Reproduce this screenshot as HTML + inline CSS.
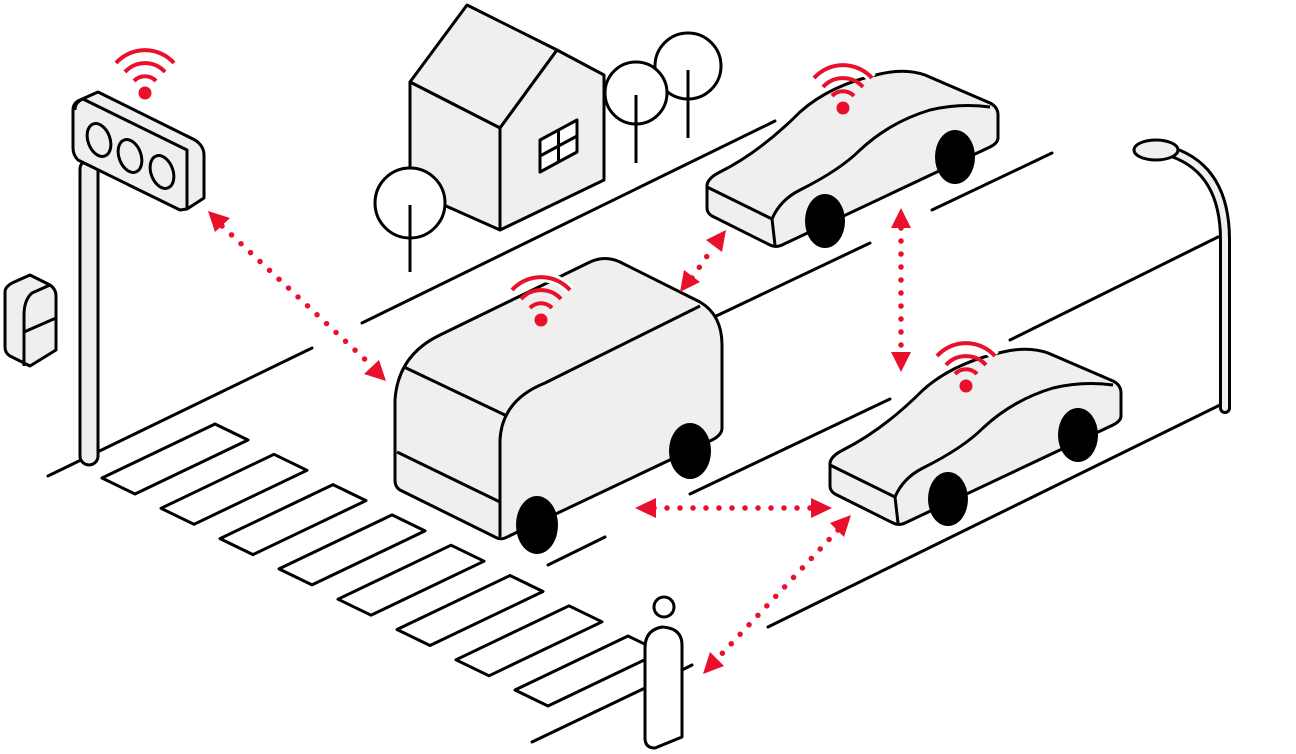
<!DOCTYPE html>
<html><head><meta charset="utf-8"><style>html,body{margin:0;padding:0;background:#fff}svg{display:block}</style></head>
<body>
<svg width="1296" height="754" viewBox="0 0 1296 754" xmlns="http://www.w3.org/2000/svg">
<defs>
<g id="wifi">
<path d="M-29,-30 A39,39 0 0 1 29,-30" fill="none" stroke="#fff" stroke-width="10"/>
<circle cx="0" cy="0" r="6.5" fill="#e8102a"/>
<path d="M-11,-12 A15,15 0 0 1 11,-12" fill="none" stroke="#e8102a" stroke-width="4"/>
<path d="M-20,-21 A27,27 0 0 1 20,-21" fill="none" stroke="#e8102a" stroke-width="4"/>
<path d="M-29,-30 A39,39 0 0 1 29,-30" fill="none" stroke="#e8102a" stroke-width="4"/>
</g>
<g id="car">
<path d="M707,185 Q708,178 720,172 Q760,152 800,112 Q830,85 880,74 Q905,68 925,75 L990,103 Q998,107 998,115 L998,138 Q998,143 990,147 L782,245 Q776,248 770,245 L712,216 Q707,213 707,208 Z" fill="#efefef" stroke="#000" stroke-width="3" stroke-linejoin="round"/>
<path d="M707,187 L772,219 L775,245" fill="none" stroke="#000" stroke-width="3"/>
<path d="M772,219 Q780,200 800,190 Q840,170 860,150 Q890,122 930,110 Q960,103 990,107" fill="none" stroke="#000" stroke-width="3"/>
<ellipse cx="825" cy="221" rx="20" ry="27" fill="#000"/>
<ellipse cx="955" cy="157" rx="20" ry="27" fill="#000"/>
</g>
</defs>

<g fill="none" stroke="#000" stroke-width="3" stroke-linecap="round">
<line x1="48" y1="476" x2="312" y2="348"/>
<line x1="362" y1="323" x2="775" y2="121"/>
<line x1="548" y1="565" x2="605" y2="537"/>
<line x1="690" y1="494" x2="890" y2="399"/>
<line x1="712" y1="318" x2="870" y2="243"/>
<line x1="932" y1="210" x2="1052" y2="153"/>
<line x1="532" y1="742" x2="645" y2="688"/>
<line x1="682" y1="670" x2="692" y2="665"/>
<line x1="768" y1="627" x2="1220" y2="405"/>
<line x1="1010" y1="340" x2="1218" y2="237"/>
</g>

<g fill="#fff" stroke="#000" stroke-width="3" stroke-linejoin="round">
<path id="st" d="M102,478 L215,424 L248,440 L135,494 Z"/>
<use href="#st" transform="translate(59,30.3)"/>
<use href="#st" transform="translate(118,60.6)"/>
<use href="#st" transform="translate(177,90.9)"/>
<use href="#st" transform="translate(236,121.2)"/>
<use href="#st" transform="translate(295,151.5)"/>
<use href="#st" transform="translate(354,181.8)"/>
<use href="#st" transform="translate(413,212)"/>
</g>

<g fill="#fff" stroke="#000" stroke-width="3">
<circle cx="688" cy="66" r="33"/>
<line x1="688" y1="70" x2="688" y2="138"/>
<circle cx="636" cy="93" r="31"/>
<line x1="636" y1="95" x2="636" y2="163"/>
</g>

<g fill="#efefef" stroke="#000" stroke-width="3" stroke-linejoin="round">
<path d="M410,82 L467,5 L557,50 L500,128 Z"/>
<path d="M410,82 L500,128 L500,230 L410,190 Z"/>
<path d="M500,128 L557,50 L604,75 L604,180 L500,230 Z"/>
<path d="M540,140 L577,120 L577,152 L540,172 Z" fill="#fff"/>
<path d="M558.5,130 L558.5,162 M540,156 L577,136" fill="none"/>
</g>
<g fill="#fff" stroke="#000" stroke-width="3">
<circle cx="410" cy="203" r="35"/>
<line x1="410" y1="205" x2="410" y2="272"/>
</g>

<path d="M1172,152 Q1225,170 1225,240 L1225,408" fill="none" stroke="#000" stroke-width="12" stroke-linecap="round"/>
<path d="M1172,152 Q1225,170 1225,240 L1225,408" fill="none" stroke="#efefef" stroke-width="6" stroke-linecap="round"/>
<ellipse cx="1156" cy="150" rx="22" ry="10" fill="#efefef" stroke="#000" stroke-width="3"/>

<rect x="80" y="160" width="18" height="305" rx="9" fill="#efefef" stroke="#000" stroke-width="3"/>
<g fill="#efefef" stroke="#000" stroke-width="3" stroke-linejoin="round">
<path d="M80,100 L98,92 L195,140 Q204,146 204,155 L204,198 L187,209 L180,210 L78,160 Q73,155 73,148 L73,110 Q73,103 80,100 Z"/>
<path d="M83,99 L187,150 L187,208" fill="none"/>
<path d="M83,99 Q75,102 75,110"/>
<ellipse cx="99" cy="140" rx="11" ry="17" transform="rotate(-20 99 140)"/>
<ellipse cx="130" cy="156" rx="11" ry="17" transform="rotate(-20 130 156)"/>
<ellipse cx="162" cy="172" rx="11" ry="17" transform="rotate(-20 162 172)"/>
</g>
<g fill="#efefef" stroke="#000" stroke-width="3" stroke-linejoin="round">
<path d="M12,283 L30,275 L50,285 Q56,289 56,296 L56,350 L30,366 L10,356 Q5,353 5,347 L5,292 Q5,287 12,283 Z"/>
<path d="M50,285 L32,293 Q24,300 24,315 L24,366 M24,332 L56,318" fill="none"/>
</g>

<g fill="#efefef" stroke="#000" stroke-width="3" stroke-linejoin="round">
<path d="M395,400 Q398,355 440,335 L590,262 Q605,255 620,262 L700,302 Q722,315 722,345 L722,428 Q722,435 712,440 L505,538 Q500,540 495,537 L400,490 Q395,487 395,480 Z"/>
<path d="M404,367 L507,416" fill="none"/>
<path d="M397,452 L500,502" fill="none"/>
<path d="M500,537 L500,440 Q502,400 545,383 L700,306" fill="none"/>
</g>
<ellipse cx="537" cy="525" rx="21" ry="29" fill="#000"/>
<ellipse cx="690" cy="451" rx="21" ry="28" fill="#000"/>

<use href="#car"/>
<use href="#car" transform="translate(123,278)"/>

<circle cx="664" cy="607" r="10" fill="#fff" stroke="#000" stroke-width="3"/>
<path d="M645,648 Q645,630 662,627 Q682,628 682,645 L682,737 L655,748 Q645,748 645,738 Z" fill="#fff" stroke="#000" stroke-width="3" stroke-linejoin="round"/>

<use href="#wifi" transform="translate(145,93)"/>
<use href="#wifi" transform="translate(541,320)"/>
<use href="#wifi" transform="translate(843,108)"/>
<use href="#wifi" transform="translate(966,386)"/>

<g stroke="#e8102a" stroke-width="5.5" stroke-linecap="round" stroke-dasharray="0 13" fill="none">
<line x1="222" y1="226" x2="372" y2="366"/>
<line x1="692" y1="278" x2="714" y2="246"/>
<line x1="901" y1="228" x2="901" y2="354"/>
<line x1="654" y1="508" x2="812" y2="508"/>
<line x1="838" y1="530" x2="716" y2="660"/>
</g>
<g fill="#e8102a">
<polygon points="208,211 230,218 215,232"/>
<polygon points="386,381 364,374 379,360"/>
<polygon points="680,292 684,270 700,282"/>
<polygon points="726,230 722,252 706,240"/>
<polygon points="901,208 911,228 891,228"/>
<polygon points="901,372 891,352 911,352"/>
<polygon points="635,508 656,498 656,518"/>
<polygon points="832,508 811,498 811,518"/>
<polygon points="851,515 844,537 830,523"/>
<polygon points="703,674 710,652 724,666"/>
</g>
</svg>
</body></html>
